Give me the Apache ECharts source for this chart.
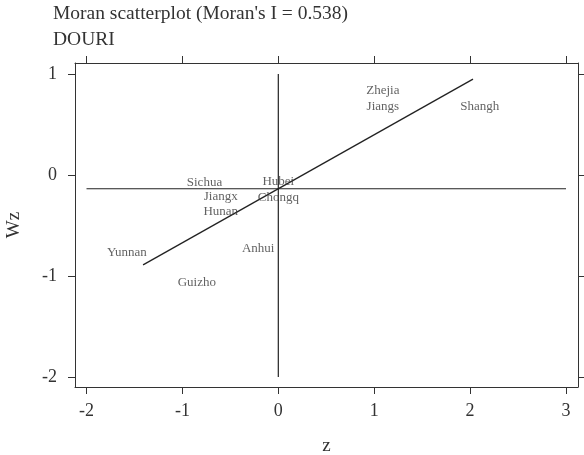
<!DOCTYPE html>
<html>
<head>
<meta charset="utf-8">
<script src="https://cdn.jsdelivr.net/npm/echarts@6/dist/echarts.min.js"></script>
<style>
  html, body { margin: 0; padding: 0; background: #fff; }
  #main { width: 584px; height: 455px; }
</style>
</head>
<body>
<div id="main"></div>
<script>
// region labels and their (z, Wz) positions
var names = ['Zhejia', 'Jiangs', 'Shangh', 'Sichua', 'Jiangx', 'Hunan', 'Hubei', 'Chongq', 'Anhui', 'Yunnan', 'Guizho'];
var zVals = [1.09, 1.09, 2.10, -0.77, -0.60, -0.60, 0.00, 0.00, -0.21, -1.58, -0.85];
var wzVals = [0.84, 0.68, 0.68, -0.07, -0.21, -0.36, -0.06, -0.22, -0.73, -0.77, -1.07];

// regression line endpoints (slope = Moran's I)
var fitZ = [-1.41, 2.03];
var fitWz = [-0.89, 0.95];

// reference lines
var meanWz = -0.136;
var hLineZ = [-2, 3];
var vLineWz = [-2, 1];

var xTicks = [-2, -1, 0, 1, 2, 3];
var yTicks = [-2, -1, 0, 1];

var font = 'Liberation Serif';
var ink = '#333';

var myChart = echarts.init(document.getElementById('main'));

function axisBase(extra) {
    var a = {
        type: 'value',
        splitLine: { show: false },
        axisLine: { show: true, onZero: false, lineStyle: { color: ink, width: 1 } },
        axisTick: { show: true, inside: false, length: 7, lineStyle: { color: ink } },
        axisLabel: { show: false }
    };
    for (var k in extra) a[k] = extra[k];
    return a;
}

var xRange = { min: -2.12, max: 3.125 };
var yRange = { min: -2.10, max: 1.11 };

var option = {
    backgroundColor: '#fff',
    animation: false,
    title: {
        text: "Moran scatterplot (Moran's I = 0.538)\nDOURI",
        left: 53,
        top: 1,
        padding: 0,
        textStyle: { fontFamily: font, fontSize: 19.5, fontWeight: 'normal', color: ink, lineHeight: 26 }
    },
    grid: { left: 75, right: 6, top: 63, bottom: 68, outerBoundsMode: 'none' },
    xAxis: [
        axisBase({
            position: 'bottom', min: xRange.min, max: xRange.max,
            name: 'z', nameLocation: 'middle', nameGap: 50,
            nameTextStyle: { fontFamily: font, fontSize: 19, color: ink },
            axisTick: { show: true, length: 7, lineStyle: { color: ink }, customValues: xTicks },
            axisLabel: { show: true, margin: 15, fontFamily: font, fontSize: 18, color: ink, customValues: xTicks }
        }),
        axisBase({
            position: 'top', min: xRange.min, max: xRange.max,
            axisTick: { show: true, length: 7, lineStyle: { color: ink }, customValues: xTicks }
        })
    ],
    yAxis: [
        axisBase({
            position: 'left', min: yRange.min, max: yRange.max,
            name: 'Wz', nameLocation: 'middle', nameGap: 51,
            nameTextStyle: { fontFamily: font, fontSize: 19, color: ink },
            axisTick: { show: true, length: 7, lineStyle: { color: ink }, customValues: yTicks },
            axisLabel: { show: true, margin: 18, fontFamily: font, fontSize: 18, color: ink, customValues: yTicks }
        }),
        axisBase({
            position: 'right', min: yRange.min, max: yRange.max,
            axisTick: { show: true, length: 7, lineStyle: { color: ink }, customValues: yTicks }
        })
    ],
    series: [
        {
            type: 'line',
            data: hLineZ.map(function (z) { return [z, meanWz]; }),
            symbol: 'none',
            lineStyle: { color: '#222', width: 1.2 },
            silent: true
        },
        {
            type: 'line',
            data: vLineWz.map(function (w) { return [0, w]; }),
            symbol: 'none',
            lineStyle: { color: '#222', width: 1.2 },
            silent: true
        },
        {
            type: 'line',
            data: fitZ.map(function (z, i) { return [z, fitWz[i]]; }),
            symbol: 'none',
            lineStyle: { color: '#222', width: 1.3 },
            silent: true
        },
        {
            type: 'scatter',
            data: names.map(function (n, i) { return { name: n, value: [zVals[i], wzVals[i]] }; }),
            symbolSize: 1,
            itemStyle: { color: 'rgba(0,0,0,0)' },
            label: {
                show: true,
                position: 'inside',
                formatter: '{b}',
                fontFamily: font,
                fontSize: 13,
                color: '#3a3a3a'
            },
            z: 5
        }
    ]
};

myChart.setOption(option);
</script>
</body>
</html>
